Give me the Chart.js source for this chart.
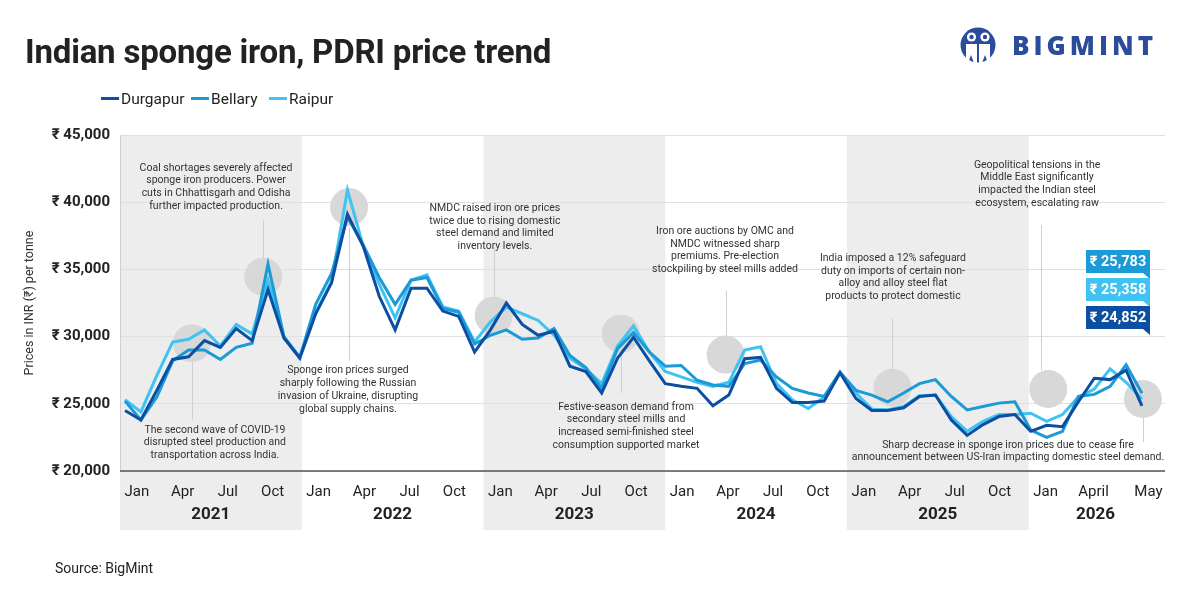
<!DOCTYPE html>
<html>
<head>
<meta charset="utf-8">
<script src="https://cdn.jsdelivr.net/npm/chart.js@4.4.1/dist/chart.umd.min.js"></script>
<style>
  body { margin: 0; background: #fff; }
  #wrap { position: relative; width: 1200px; height: 600px; font-family: Roboto, 'Liberation Sans', sans-serif; color: #222; }
  #chart { position: absolute; left: 0; top: 0; }
  .title { position: absolute; left: 25px; top: 32px; font-size: 33px; font-weight: 700; line-height: 40px; letter-spacing: -0.2px; white-space: nowrap; }
  .legend-item { position: absolute; top: 89px; font-size: 15.5px; line-height: 20px; white-space: nowrap; }
  .legend-item i { display: inline-block; width: 18px; height: 3px; vertical-align: middle; margin-right: 2px; margin-top: -2px; }
  .source { position: absolute; left: 55px; top: 559px; font-size: 14px; line-height: 18px; }
  .logo { position: absolute; left: 960px; top: 27px; height: 36px; }
  .logo span { position: absolute; left: 52px; top: 2px; font-size: 26px; font-weight: 800; letter-spacing: 4px; color: #2b4c9b; font-family: 'Open Sans', Roboto, sans-serif; line-height: 32px; }
</style>
</head>
<body>
<div id="wrap">
  <canvas id="chart" width="1200" height="600"></canvas>
  <div class="title">Indian sponge iron, PDRI price trend</div>
  <div id="legend"></div>
  <div class="logo">
    <svg width="38" height="38" viewBox="0 0 38 38">
      <circle cx="18" cy="18" r="17.5" fill="#2b4c9b"/>
      <circle cx="11.5" cy="10" r="4.6" fill="#fff"/>
      <circle cx="11.5" cy="10" r="2.2" fill="#2b4c9b"/>
      <circle cx="25" cy="10" r="4.6" fill="#fff"/>
      <circle cx="25" cy="10" r="2.2" fill="#2b4c9b"/>
      <path d="M6 17 h11 v19 h-3 l-3 -8 l-3 8 h-2 z" fill="#fff"/>
      <path d="M19 17 h11 v19 h-2 l-3 -8 l-3 8 h-3 z" fill="#fff"/>
    </svg>
    <span>BIGMINT</span>
  </div>
  <div class="source">Source: BigMint</div>
</div>
<script>
// monthly prices, Jan 2021 .. May 2026 (INR per tonne)
const durgapur = [24500, 23800, 26000, 28300, 28500, 29700, 29200, 30600, 29700, 33500, 29900, 28400,
  31700, 34000, 39100, 36700, 33000, 30500, 33600, 33600, 31900, 31500, 28850, 30500,
  32500, 30900, 30100, 30400, 27800, 27400, 25800, 28400, 29950, 28200, 26500, 26300,
  26150, 24850, 25650, 28350, 28450, 26150, 25100, 25100, 25200, 27300, 25400, 24500,
  24500, 24700, 25550, 25650, 23800, 22650, 23450, 24050, 24200, 22950, 23400, 23300,
  25150, 26900, 26800, 27500, 24852];
const bellary = [25200, 23800, 25500, 28200, 29000, 29000, 28300, 29200, 29500, 35400, 30000, 28450,
  32400, 34700, 38900, 36800, 34400, 32400, 34200, 34400, 32100, 31800, 29450, 30100,
  30500, 29800, 29900, 30600, 28600, 27700, 26150, 29100, 30300, 28850, 27800, 27850,
  26750, 26400, 26300, 28000, 28250, 27000, 26150, 25800, 25550, 27350, 26000, 25650,
  25150, 25800, 26500, 26800, 25550, 24550, 24800, 25050, 25150, 23050, 22500, 22950,
  25550, 25700, 26300, 27900, 25783];
const raipur = [25300, 24400, 27100, 29600, 29800, 30500, 29300, 30900, 30200, 34200, 30000, 28450,
  31800, 34100, 40900, 36700, 33900, 31400, 34200, 34600, 32200, 31900, 29600, 31100,
  32200, 31700, 31200, 30100, 28400, 27600, 26500, 29300, 30800, 28850, 27400, 27000,
  26600, 26300, 26600, 29000, 29250, 26500, 25300, 24650, 25500, 27350, 25800, 24600,
  24550, 24800, 25600, 25650, 24050, 22950, 23700, 24200, 24200, 24300, 23700, 24200,
  25500, 26100, 27600, 26600, 25358];

const seriesNames = ['Durgapur', 'Bellary', 'Raipur'];
const seriesColors = ['#0b4ea2', '#1a9ad7', '#3ec3f2'];
const seriesData = [durgapur, bellary, raipur];

const yearLabels = ['2021', '2022', '2023', '2024', '2025', '2026'];
const quarterTicks = ['Jan', 'Apr', 'Jul', 'Oct'];
const lastYearTicks = ['Jan', 'April', 'May'];

const notes = [
  { i: 4.2, v: 29500, from: 28780, to: 23790, tx: 5.66, ty: 23050,
    text: ['The second wave of COVID-19', 'disrupted steel production and', 'transportation across India.'] },
  { i: 8.7, v: 34460, from: 38660, to: 35800, tx: 5.73, ty: 42540,
    text: ['Coal shortages severely affected', 'sponge iron producers. Power', 'cuts in Chhattisgarh and Odisha', 'further impacted production.'] },
  { i: 14.1, v: 39630, from: 38140, to: 28210, tx: 14.03, ty: 27470,
    text: ['Sponge iron prices surged', 'sharply following the Russian', 'invasion of Ukraine, disrupting', 'global supply chains.'] },
  { i: 23.2, v: 31560, from: 36550, to: 32900, tx: 23.28, ty: 39550,
    text: ['NMDC raised iron ore prices', 'twice due to rising domestic', 'steel demand and limited', 'inventory levels.'] },
  { i: 31.2, v: 30220, from: 29480, to: 25800, tx: 31.53, ty: 24760,
    text: ['Festive-season demand from', 'secondary steel mills and', 'increased semi-finished steel', 'consumption supported market'] },
  { i: 37.8, v: 28660, from: 33420, to: 29930, tx: 37.76, ty: 37840,
    text: ['Iron ore auctions by OMC and', 'NMDC witnessed sharp', 'premiums. Pre-election', 'stockpiling by steel mills added'] },
  { i: 48.3, v: 26190, from: 31340, to: 27510, tx: 48.33, ty: 35830,
    text: ['India imposed a 12% safeguard', 'duty on imports of certain non-', 'alloy and alloy steel flat', 'products to protect domestic'] },
  { i: 58.1, li: 57.65, v: 26100, from: 38290, to: 27510, tx: 57.4, ty: 42770,
    text: ['Geopolitical tensions in the', 'Middle East significantly', 'impacted the Indian steel', 'ecosystem, escalating raw'] },
  { i: 64.06, v: 25360, from: 24020, to: 22160, tx: 55.57, ty: 21930,
    text: ['Sharp decrease in sponge iron prices due to cease fire', 'announcement between US-Iran impacting domestic steel demand.'] }
];

const FONT = "Roboto, 'Liberation Sans', sans-serif";
Chart.defaults.font.family = FONT;

// html legend
const legendEl = document.getElementById('legend');
const legendX = [101, 191, 269];
seriesNames.forEach((name, k) => {
  const d = document.createElement('div');
  d.className = 'legend-item';
  d.style.left = legendX[k] + 'px';
  d.innerHTML = '<i style="background:' + seriesColors[k] + '"></i>' + name;
  legendEl.appendChild(d);
});

const decor = {
  id: 'decor',
  beforeDraw(chart) {
    const { ctx, chartArea: a, scales } = chart;
    const yr = scales.yr;
    ctx.save();
    ctx.fillStyle = '#ecedec';
    for (let b = 0; b < yearLabels.length; b += 2) {
      const x1 = yr.getPixelForValue(b), x2 = yr.getPixelForValue(Math.min(b + 1, 5.75));
      ctx.fillRect(x1, a.top, x2 - x1, 530 - a.top);
    }
    ctx.restore();
  },
  beforeDatasetsDraw(chart) {
    const { ctx, scales: { x, y } } = chart;
    ctx.save();
    ctx.strokeStyle = '#cfcfcf';
    ctx.lineWidth = 1;
    notes.forEach(n => {
      const lx = Math.round(x.getPixelForValue(n.li !== undefined ? n.li : n.i)) + 0.5;
      ctx.beginPath();
      ctx.moveTo(lx, y.getPixelForValue(n.from));
      ctx.lineTo(lx, y.getPixelForValue(n.to));
      ctx.stroke();
    });
    ctx.fillStyle = '#d8d8d8';
    notes.forEach(n => {
      ctx.beginPath();
      ctx.arc(x.getPixelForValue(n.i), y.getPixelForValue(n.v), 19, 0, Math.PI * 2);
      ctx.fill();
    });
    ctx.restore();
  },
  afterDatasetsDraw(chart) {
    const { ctx, chartArea: a, scales: { x, y, yr } } = chart;
    ctx.save();
    // bottom axis line
    ctx.strokeStyle = '#555';
    ctx.lineWidth = 1.5;
    ctx.beginPath();
    ctx.moveTo(a.left, a.bottom);
    ctx.lineTo(a.right, a.bottom);
    ctx.stroke();

    // annotation text
    ctx.fillStyle = '#333';
    ctx.font = '10.5px ' + FONT;
    ctx.textAlign = 'center';
    ctx.textBaseline = 'middle';
    notes.forEach(n => {
      const tx = x.getPixelForValue(n.tx);
      const ty = y.getPixelForValue(n.ty);
      n.text.forEach((line, k) => ctx.fillText(line, tx, ty + k * 12.8));
    });

    // month ticks and years
    ctx.fillStyle = '#222';
    yearLabels.forEach((yl, b) => {
      const ticks = b < 5 ? quarterTicks : lastYearTicks;
      const offs = b < 5 ? [0.093, 0.345, 0.593, 0.84] : [0.093, 0.357, 0.659];
      ctx.font = '15px ' + FONT;
      ticks.forEach((t, k) => ctx.fillText(t, yr.getPixelForValue(b + offs[k]), a.bottom + 21));
      ctx.font = 'bold 17px ' + FONT;
      const mid = b < 5 ? b + 0.5 : 5.368;
      ctx.fillText(yl, yr.getPixelForValue(mid), a.bottom + 44);
    });

    // y axis title
    ctx.save();
    ctx.translate(30, (a.top + a.bottom) / 2);
    ctx.rotate(-Math.PI / 2);
    ctx.font = '12.5px ' + FONT;
    ctx.fillStyle = '#333';
    ctx.fillText('Prices in INR (\u20b9) per tonne', 0, 0);
    ctx.restore();

    // latest value tags
    const order = [0, 1, 2].sort((p, q) => seriesData[q][seriesData[q].length - 1] - seriesData[p][seriesData[p].length - 1]);
    order.forEach((s, k) => {
      const last = seriesData[s][seriesData[s].length - 1];
      const bx = a.right - 79, by = a.top + 115 + k * 28, bw = 64, bh = 23;
      ctx.fillStyle = seriesColors[s];
      ctx.fillRect(bx, by, bw, bh);
      ctx.beginPath();
      ctx.moveTo(bx + bw - 7, by + bh);
      ctx.lineTo(bx + bw, by + bh);
      ctx.lineTo(bx + bw, by + bh + 6);
      ctx.closePath();
      ctx.fill();
      ctx.fillStyle = '#fff';
      ctx.font = 'bold 14.5px ' + FONT;
      ctx.fillText('\u20b9 ' + last.toLocaleString('en-US'), bx + bw / 2, by + bh / 2 + 1);
    });
    ctx.restore();
  }
};

new Chart(document.getElementById('chart'), {
  type: 'line',
  data: {
    datasets: seriesNames.map((name, k) => ({
      label: name,
      data: seriesData[k].map((v, i) => ({ x: i, y: v })),
      borderColor: seriesColors[k],
      backgroundColor: seriesColors[k],
      borderWidth: 3,
      pointRadius: 0,
      tension: 0,
      fill: false
    }))
  },
  options: {
    responsive: false,
    animation: false,
    layout: { padding: { top: 135, bottom: 129, left: 0, right: 35 } },
    plugins: { legend: { display: false }, tooltip: { enabled: false } },
    scales: {
      x: { type: 'linear', display: false, min: -0.315, max: 65.45 },
      yr: { type: 'linear', axis: 'x', display: false, min: 0, max: 5.75 },
      y: {
        min: 20000, max: 45000,
        afterFit: s => { s.width = 120; },
        grid: { color: '#e0e0e0', drawTicks: false },
        border: { display: true, color: '#cfcfcf' },
        ticks: {
          stepSize: 5000, padding: 10, color: '#222',
          font: { size: 15, weight: 'bold' },
          callback: v => '\u20b9 ' + v.toLocaleString('en-US')
        }
      }
    }
  },
  plugins: [decor]
});
</script>
</body>
</html>
